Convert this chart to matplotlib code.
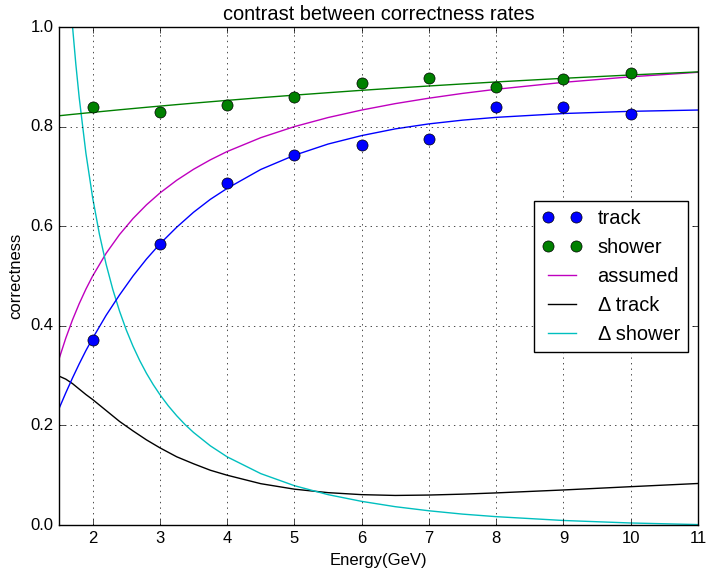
import matplotlib
matplotlib.use("Agg")
import matplotlib.pyplot as plt

plt.style.use("classic")
plt.rcParams["font.family"] = ["Liberation Sans", "DejaVu Sans"]

# Measured correctness per energy point
energy = [2, 3, 4, 5, 6, 7, 8, 9, 10]
track_rate = [0.371, 0.564, 0.687, 0.744, 0.764, 0.776, 0.839, 0.840, 0.826]
shower_rate = [0.839, 0.829, 0.843, 0.859, 0.888, 0.898, 0.879, 0.895, 0.907]

# Smooth curves sampled along the energy axis
curve_energy = [1.5, 1.6, 1.7, 1.8, 1.9, 2.0, 2.2, 2.4, 2.6, 2.8, 3.0, 3.25, 3.5,
                3.75, 4.0, 4.5, 5.0, 5.5, 6.0, 6.5, 7.0, 7.5, 8.0, 9.0, 10.0, 11.0]
track_fit = [0.2337, 0.2652, 0.2951, 0.3235, 0.3503, 0.3750, 0.421, 0.462, 0.500,
             0.534, 0.5645, 0.598, 0.628, 0.654, 0.676, 0.714, 0.7425, 0.765,
             0.782, 0.7955, 0.8055, 0.8130, 0.8186, 0.8263, 0.8307, 0.8333]
shower_fit = [0.8218, 0.8232, 0.8246, 0.8259, 0.8273, 0.8286, 0.8312, 0.8338,
              0.8363, 0.8388, 0.8412, 0.8442, 0.8471, 0.8499, 0.8527, 0.8581,
              0.8632, 0.8681, 0.8729, 0.8773, 0.8816, 0.8857, 0.8897, 0.8970,
              0.9037, 0.9099]
assumed_rate = [0.3333, 0.3750, 0.4118, 0.4444, 0.4737, 0.5000, 0.5455, 0.5833,
                0.6154, 0.6429, 0.6667, 0.6923, 0.7143, 0.7333, 0.7500, 0.7778,
                0.8000, 0.8182, 0.8333, 0.8462, 0.8571, 0.8667, 0.8750, 0.8889,
                0.9000, 0.9091]
delta_track = [0.299, 0.293, 0.284, 0.273, 0.262, 0.252, 0.230, 0.208, 0.189,
               0.171, 0.155, 0.137, 0.123, 0.110, 0.100, 0.083, 0.072, 0.065,
               0.061, 0.0594, 0.0602, 0.062, 0.0645, 0.0704, 0.077, 0.0834]

# The shower deviation bends sharply at low energy, so it is sampled more finely
delta_shower_energy = [1.5, 1.6, 1.65, 1.7, 1.75, 1.8, 1.9, 2.0, 2.1, 2.2, 2.3,
                       2.4, 2.5, 2.6, 2.7, 2.8, 2.9, 3.0, 3.125, 3.25, 3.375,
                       3.5, 3.75, 4.0, 4.5, 5.0, 5.5, 6.0, 6.5, 7.0, 7.5, 8.0,
                       9.0, 10.0, 11.0]
delta_shower = [1.4656, 1.1952, 1.0916, 1.0024, 0.9254, 0.8584, 0.7465, 0.6572,
                0.5844, 0.5238, 0.4729, 0.4294, 0.3917, 0.3590, 0.3302, 0.3047,
                0.2821, 0.2618, 0.2393, 0.2194, 0.2016, 0.1859, 0.1590, 0.1369,
                0.1032, 0.0790, 0.0610, 0.0475, 0.0368, 0.0286, 0.0219, 0.0168,
                0.0091, 0.0041, 0.0009]

x_ticks = [2, 3, 4, 5, 6, 7, 8, 9, 10, 11]
y_ticks = [0.0, 0.2, 0.4, 0.6, 0.8, 1.0]

fig = plt.figure(figsize=(7.11, 5.76), dpi=100)
fig.patch.set_facecolor("white")
ax = fig.add_axes([0.083, 0.0885, 0.8987, 0.8646])

ax.plot(energy, track_rate, "bo", markersize=8, label="track", zorder=3)
ax.plot(energy, shower_rate, "go", markersize=8, label="shower", zorder=3)
ax.plot(curve_energy, assumed_rate, "m-", label="assumed")
ax.plot(curve_energy, delta_track, "k-", label="\u0394 track")
ax.plot(delta_shower_energy, delta_shower, "c-", label="\u0394 shower")
ax.plot(curve_energy, track_fit, "b-")
ax.plot(curve_energy, shower_fit, "g-")

ax.set_xlim(1.5, 11)
ax.set_ylim(0.0, 1.0)
ax.set_xticks(x_ticks)
ax.set_yticks(y_ticks)
ax.grid(True)
ax.set_title("contrast between correctness rates")
ax.set_xlabel("Energy(GeV)")
ax.set_ylabel("correctness")
ax.legend(loc="center right", numpoints=2)

fig.savefig("out.png", dpi=100, facecolor="white")
